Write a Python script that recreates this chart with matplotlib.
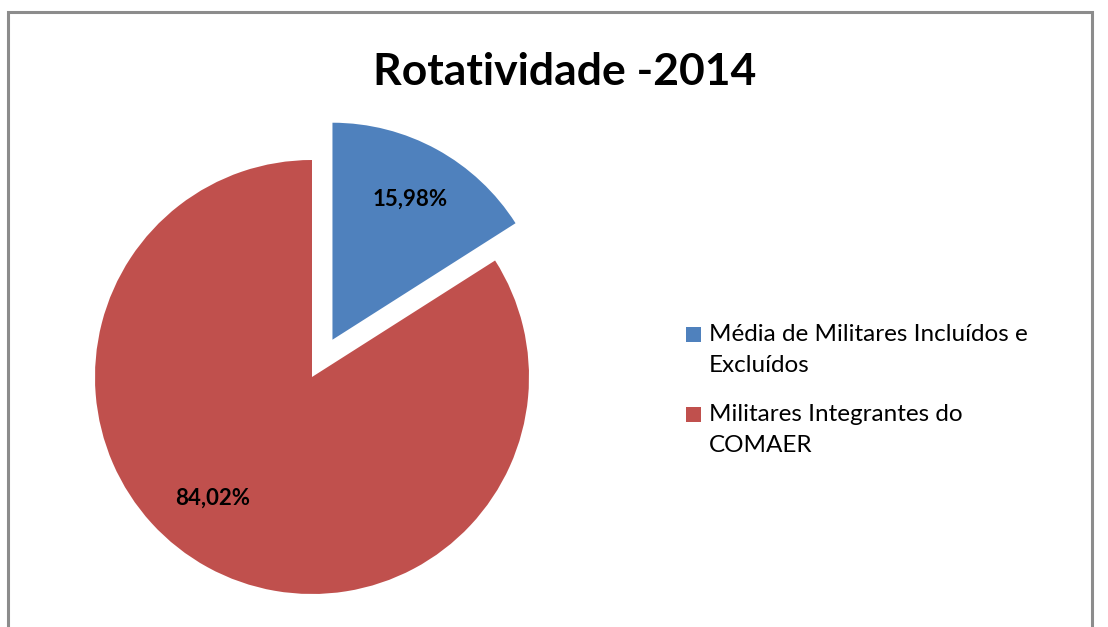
import matplotlib
matplotlib.use("Agg")
import matplotlib.pyplot as plt
from matplotlib.patches import Rectangle
import numpy as np

title = "Rotatividade -2014"
categories = ["Média de Militares Incluídos e\nExcluídos", "Militares Integrantes do\nCOMAER"]
values = [15.98, 84.02]
labels_txt = ["15,98%", "84,02%"]
colors = ["#4F81BD", "#C0504D"]

W, H = 1108, 627
fig = plt.figure(figsize=(W / 100, H / 100), dpi=100)
ax = fig.add_axes([0, 0, 1, 1])

font = "Lato"
R = 217
center = (312, H - 377)
wedges, texts, autotexts = ax.pie(
    values, colors=colors, startangle=90, counterclock=False,
    explode=[0.196 * R, 0], radius=R, center=center, frame=True,
    autopct="%1.2f%%", pctdistance=0.74,
    wedgeprops=dict(linewidth=0),
    textprops=dict(fontsize=16, fontweight="bold", family=font, color="black"))
ax.set_xlim(0, W)
ax.set_ylim(0, H)
ax.set_aspect("auto")
ax.axis("off")
for t, s in zip(autotexts, labels_txt):
    t.set_text(s)
# place larger slice label as Excel did
ang = np.deg2rad(230.7)
autotexts[1].set_position((center[0] + 0.72 * R * np.cos(ang),
                           center[1] + 0.72 * R * np.sin(ang)))

# chart border (gray, no bottom edge visible)
bx0, bx1, by = 8, 1092, H - 11.5
ax.plot([bx0, bx0, bx1, bx1], [-5, by, by, -5], color="#8c8c8c", lw=2.2,
        solid_joinstyle="miter", zorder=1)

ax.text(565, H - 72, title, ha="center", va="center", fontsize=32,
        fontweight="bold", family=font)

# legend
lx, ly0 = 686, H - 327
entry_gap = 80
for i, (cat, col) in enumerate(zip(categories, colors)):
    y_top = ly0 - i * entry_gap
    ax.add_patch(Rectangle((lx, y_top - 15), 15, 15, color=col, lw=0))
    ax.text(lx + 23, y_top + 3, cat, ha="left", va="top", fontsize=17.5,
            family=font, linespacing=1.6)

fig.savefig("out.png", dpi=100)
